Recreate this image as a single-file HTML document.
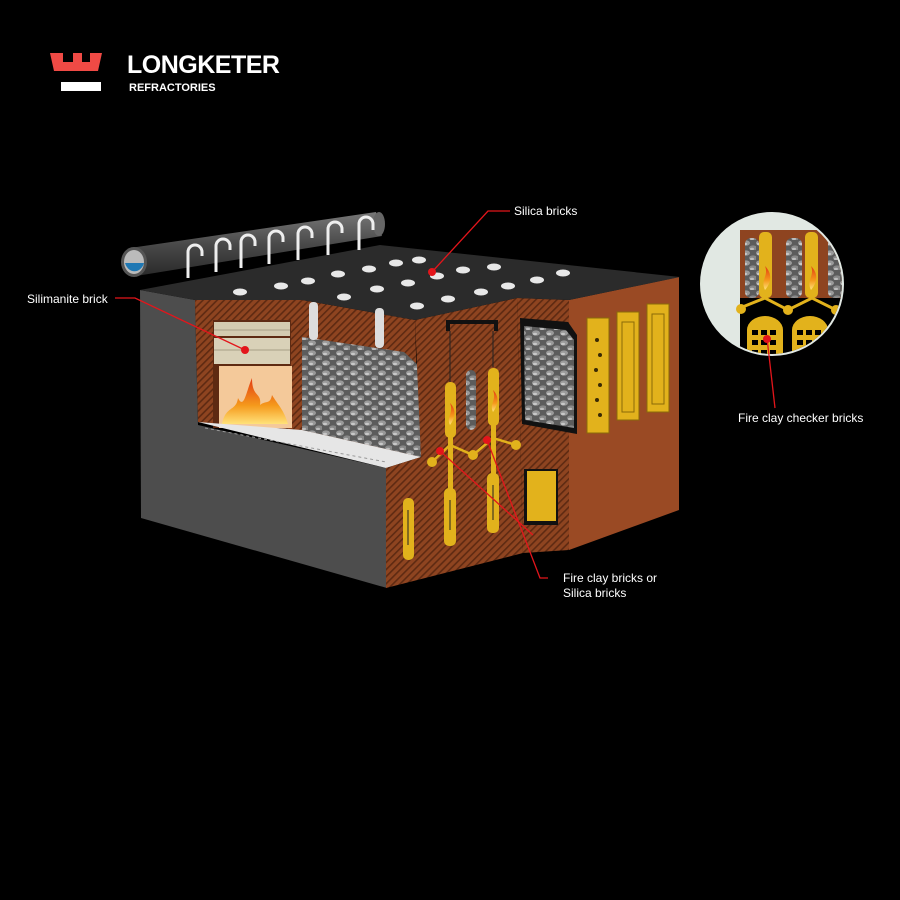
<!DOCTYPE html>
<html><head><meta charset="utf-8"><style>
html,body{margin:0;padding:0;background:#000;}
svg{display:block}
text{font-family:"Liberation Sans",sans-serif;}
</style></head><body>
<svg width="900" height="900" viewBox="0 0 900 900" xmlns="http://www.w3.org/2000/svg">
<defs>
<pattern id="hb" patternUnits="userSpaceOnUse" width="5" height="5" patternTransform="rotate(45)">
<rect width="5" height="5" fill="#8e4420"/><rect width="1.6" height="5" fill="#5e2a12"/>
</pattern>
<pattern id="st" patternUnits="userSpaceOnUse" width="14" height="10">
<rect width="14" height="10" fill="#5c5c5c"/>
<ellipse cx="4" cy="3" rx="4" ry="2.6" fill="#9a9a9a"/>
<ellipse cx="11" cy="8" rx="4" ry="2.6" fill="#888"/>
<ellipse cx="3" cy="4" rx="2" ry="1.2" fill="#c8c8c8"/>
<ellipse cx="10" cy="9" rx="2" ry="1.2" fill="#bdbdbd"/>
</pattern>
<linearGradient id="pipe" x1="0" y1="0" x2="0" y2="1">
<stop offset="0" stop-color="#777"/><stop offset=".5" stop-color="#4a4a4a"/><stop offset="1" stop-color="#2a2a2a"/>
</linearGradient>
<linearGradient id="fire" x1="0" y1="0" x2="0" y2="1">
<stop offset="0" stop-color="#e23a12"/><stop offset=".6" stop-color="#f59a1c"/><stop offset="1" stop-color="#ffe27a"/>
</linearGradient>
<clipPath id="circ"><circle cx="772" cy="284" r="70"/></clipPath>
</defs>

<!-- Logo -->
<path d="M50 53 H63 V62 H73 V53 H82 V62 H90 V53 H102 L98 71 H54 Z" fill="#ef4a45"/>
<rect x="61" y="82" width="40" height="9" fill="#fff"/>
<text x="127" y="73" font-size="25" font-weight="bold" fill="#fff" letter-spacing="-0.5">LONGKETER</text>
<text x="129" y="91" font-size="11" font-weight="bold" fill="#fff">REFRACTORIES</text>

<!-- gray block -->
<polygon points="140,290 195,300 198,425 386,468 387,588 141,518" fill="#4d4d4d"/>
<!-- back hatched wall left chamber -->
<polygon points="195,300 302,300 415,320 419,458 198,422" fill="url(#hb)"/>
<!-- stone -->
<polygon points="302,337 404,352 419,366 421,457 302,430" fill="url(#st)"/>
<!-- silimanite chamber -->
<rect x="213" y="320" width="78" height="108" fill="#5e2a12"/>
<rect x="214" y="322" width="76" height="14" fill="#d4cbb0"/>
<rect x="214" y="338" width="76" height="26" fill="#d9d1b8"/>
<line x1="214" y1="330" x2="290" y2="330" stroke="#a89f86"/>
<line x1="214" y1="350" x2="290" y2="350" stroke="#a89f86"/>
<rect x="219" y="366" width="73" height="62" fill="#f4c99a"/>
<path d="M222 424 C226 405 236 412 238 398 C244 410 246 392 252 378 C252 398 262 392 260 405 C266 400 270 405 272 395 C278 405 284 410 288 424 Z" fill="url(#fire)"/>
<!-- floor -->
<polygon points="198,422 302,430 421,457 386,468" fill="#e6e6e6"/>
<line x1="205" y1="428" x2="386" y2="462" stroke="#999" stroke-dasharray="3 3"/>
<!-- front brick face -->
<polygon points="415,320 517,298 523,553 386,588 386,468 421,457" fill="url(#hb)"/>
<polygon points="517,298 569,300 569,550 523,553" fill="url(#hb)"/>
<!-- right face -->
<polygon points="569,300 679,277 679,510 569,550" fill="#9a4a24"/>
<!-- right chamber stone -->
<polygon points="520,318 568,322 577,335 577,434 522,424" fill="#111"/>
<polygon points="524,326 566,330 574,340 574,428 525,420" fill="url(#st)"/>
<!-- yellow door -->
<rect x="524" y="469" width="34" height="56" fill="#111"/>
<rect x="527" y="471" width="29" height="50" fill="#e2b21c"/>
<!-- right panels -->
<g fill="#e2b21c" stroke="#8a6a08" stroke-width="1">
<rect x="587" y="318" width="22" height="115"/>
<rect x="617" y="312" width="22" height="108"/>
<rect x="647" y="304" width="22" height="108"/>
</g>
<g fill="#3a2a05"><circle cx="597" cy="340" r="2"/><circle cx="600" cy="355" r="2"/><circle cx="596" cy="370" r="2"/><circle cx="600" cy="385" r="2"/><circle cx="597" cy="400" r="2"/><circle cx="600" cy="415" r="2"/></g>
<g fill="none" stroke="#8a6a08"><rect x="622" y="322" width="12" height="90"/><rect x="652" y="314" width="12" height="90"/></g>

<!-- top face -->
<polygon points="140,290 380,245 680,277 569,300 517,298 415,320 302,300 195,300" fill="#2b2b2b"/>
<!-- vertical white pipes -->
<rect x="309" y="302" width="9" height="38" rx="4" fill="#ddd"/>
<rect x="375" y="308" width="9" height="40" rx="4" fill="#ddd"/>
<!-- holes -->
<g fill="#e8e8e8">
<ellipse cx="240" cy="292" rx="7" ry="3.5"/><ellipse cx="281" cy="286" rx="7" ry="3.5"/><ellipse cx="308" cy="281" rx="7" ry="3.5"/><ellipse cx="338" cy="274" rx="7" ry="3.5"/><ellipse cx="369" cy="269" rx="7" ry="3.5"/><ellipse cx="396" cy="263" rx="7" ry="3.5"/><ellipse cx="419" cy="260" rx="7" ry="3.5"/><ellipse cx="344" cy="297" rx="7" ry="3.5"/><ellipse cx="377" cy="289" rx="7" ry="3.5"/><ellipse cx="408" cy="283" rx="7" ry="3.5"/><ellipse cx="437" cy="276" rx="7" ry="3.5"/><ellipse cx="463" cy="270" rx="7" ry="3.5"/><ellipse cx="494" cy="267" rx="7" ry="3.5"/><ellipse cx="417" cy="306" rx="7" ry="3.5"/><ellipse cx="448" cy="299" rx="7" ry="3.5"/><ellipse cx="481" cy="292" rx="7" ry="3.5"/><ellipse cx="508" cy="286" rx="7" ry="3.5"/><ellipse cx="537" cy="280" rx="7" ry="3.5"/><ellipse cx="563" cy="273" rx="7" ry="3.5"/>
</g>
<!-- pipe -->
<polygon points="130,248 376,212 382,236 136,276" fill="url(#pipe)"/>
<ellipse cx="379" cy="224" rx="6" ry="12" fill="#666"/>
<ellipse cx="134" cy="262" rx="13" ry="15" fill="#555"/>
<ellipse cx="134" cy="262" rx="10" ry="12" fill="#bbb"/>
<path d="M125 263 A10 12 0 0 0 144 263 Z" fill="#1f78b4"/>
<g fill="none" stroke="#eee" stroke-width="3">
<path d="M188 278 V252 a7 7 0 0 1 14 0 V256"/>
<path d="M216 272 V246 a7 7 0 0 1 14 0 V250"/>
<path d="M241 268 V242 a7 7 0 0 1 14 0 V246"/>
<path d="M269 264 V238 a7 7 0 0 1 14 0 V242"/>
<path d="M298 260 V234 a7 7 0 0 1 14 0 V238"/>
<path d="M328 255 V229 a7 7 0 0 1 14 0 V233"/>
<path d="M359 250 V224 a7 7 0 0 1 14 0 V230"/>
</g>

<!-- burners -->
<path d="M448 331 V322 H496 V331" fill="none" stroke="#111" stroke-width="4"/>
<line x1="450" y1="331" x2="450" y2="382" stroke="#222"/><line x1="493" y1="331" x2="493" y2="367" stroke="#222"/>
<rect x="466" y="370" width="10" height="60" rx="5" fill="url(#st)"/>
<g fill="#e2b21c">
<rect x="445" y="382" width="11" height="56" rx="5"/>
<rect x="488" y="368" width="11" height="58" rx="5"/>
<rect x="448" y="436" width="5" height="55"/>
<rect x="491" y="424" width="5" height="50"/>
<rect x="444" y="488" width="12" height="58" rx="5"/>
<rect x="487" y="473" width="12" height="60" rx="5"/>
<rect x="403" y="498" width="11" height="62" rx="5"/>
<circle cx="432" cy="462" r="5"/><circle cx="473" cy="455" r="5"/><circle cx="516" cy="445" r="5"/>
</g>
<g stroke="#e2b21c" stroke-width="2.5" fill="none">
<path d="M432 462 L450 445 L473 455 L493 438 L516 445"/>
</g>
<path d="M450 425 c-4-8 4-12 0-22 c6 6 6 14 0 22z" fill="url(#fire)"/>
<path d="M493 412 c-4-8 4-12 0-22 c6 6 6 14 0 22z" fill="url(#fire)"/>
<g stroke="#222" stroke-width="1"><line x1="408" y1="510" x2="408" y2="545"/><line x1="450" y1="500" x2="450" y2="530"/><line x1="493" y1="485" x2="493" y2="520"/></g>

<!-- inset circle -->
<circle cx="772" cy="284" r="72" fill="#e1e8e3"/>
<g clip-path="url(#circ)">
<rect x="740" y="230" width="120" height="69" fill="#8e4420"/>
<rect x="745" y="238" width="14" height="60" rx="6" fill="url(#st)"/>
<rect x="786" y="238" width="16" height="60" rx="6" fill="url(#st)"/>
<rect x="828" y="238" width="16" height="60" rx="6" fill="url(#st)"/>
<rect x="759" y="232" width="13" height="66" rx="5" fill="#e2b21c"/>
<rect x="805" y="232" width="13" height="66" rx="5" fill="#e2b21c"/>
<path d="M765 290 c-5-10 4-14 0-24 c7 7 7 16 0 24z" fill="url(#fire)"/>
<path d="M811 290 c-5-10 4-14 0-24 c7 7 7 16 0 24z" fill="url(#fire)"/>
<rect x="740" y="298" width="120" height="70" fill="#000"/>
<path d="M740 308 L765 298 L788 310 L812 298 L836 310 L860 300" stroke="#e2b21c" stroke-width="3" fill="none"/>
<circle cx="741" cy="309" r="5" fill="#e2b21c"/><circle cx="788" cy="310" r="5" fill="#e2b21c"/><circle cx="836" cy="310" r="5" fill="#e2b21c"/>
<path d="M747 360 V330 a18 14 0 0 1 36 0 V360 Z" fill="#e2b21c"/>
<path d="M792 360 V330 a18 14 0 0 1 36 0 V360 Z" fill="#e2b21c"/>
<g fill="#000">
<rect x="752" y="330" width="6" height="5"/><rect x="761" y="330" width="6" height="5"/><rect x="770" y="330" width="6" height="5"/>
<rect x="752" y="340" width="6" height="5"/><rect x="761" y="340" width="6" height="5"/><rect x="770" y="340" width="6" height="5"/>
<rect x="752" y="350" width="6" height="5"/><rect x="761" y="350" width="6" height="5"/><rect x="770" y="350" width="6" height="5"/>
<rect x="797" y="330" width="6" height="5"/><rect x="806" y="330" width="6" height="5"/><rect x="815" y="330" width="6" height="5"/>
<rect x="797" y="340" width="6" height="5"/><rect x="806" y="340" width="6" height="5"/><rect x="815" y="340" width="6" height="5"/>
<rect x="797" y="350" width="6" height="5"/><rect x="806" y="350" width="6" height="5"/><rect x="815" y="350" width="6" height="5"/>
</g>
</g>

<!-- callouts -->
<g stroke="#e3151b" stroke-width="1.3" fill="none">
<path d="M115 298 H135 L245 350"/>
<path d="M510 211 H488 L432 272"/>
<path d="M548 578 H540 L487 440"/>
<path d="M533 535 L440 451"/>
<path d="M767 338 L775 408"/>
</g>
<g fill="#e3151b">
<circle cx="245" cy="350" r="4"/><circle cx="432" cy="272" r="4"/><circle cx="440" cy="451" r="4"/><circle cx="487" cy="440" r="4"/><circle cx="767" cy="339" r="4"/>
</g>
<g fill="#fff" font-size="12">
<text x="27" y="303">Silimanite brick</text>
<text x="514" y="215">Silica bricks</text>
<text x="563" y="582">Fire clay bricks or</text>
<text x="563" y="597">Silica bricks</text>
<text x="738" y="422">Fire clay checker bricks</text>
</g>
</svg>
</body></html>
